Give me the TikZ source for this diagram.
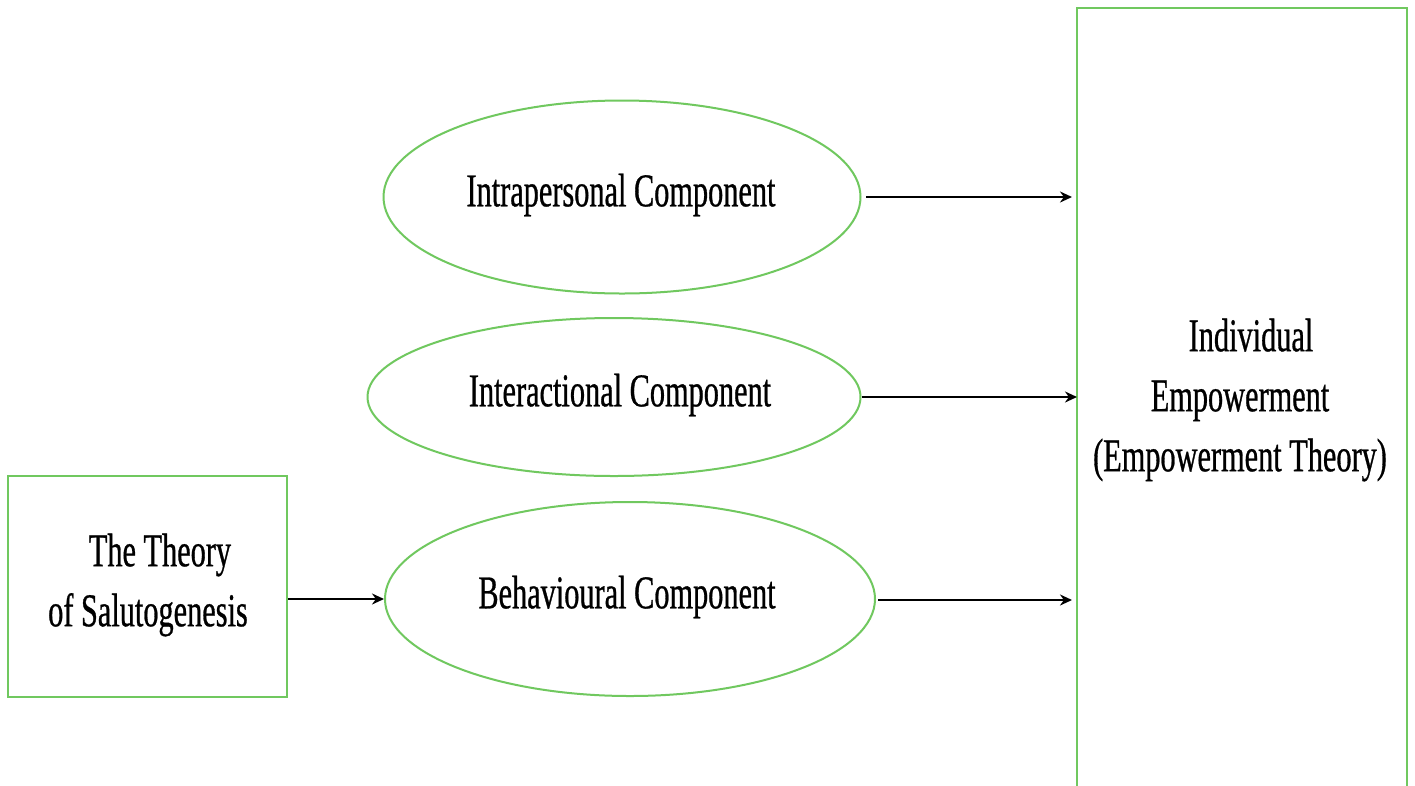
\documentclass[tikz,border=0pt]{standalone}
\usepackage{fontspec}
\setmainfont{Liberation Serif}[FakeStretch=0.645,FakeBold=0.6]
\usetikzlibrary{shapes.geometric,arrows.meta}
\definecolor{lgreen}{RGB}{112,200,95}
\tikzset{
  comp/.style={draw=lgreen,line width=2pt,ellipse,inner sep=0pt},
  boxn/.style={draw=lgreen,line width=2pt,rectangle,inner sep=0pt},
  txt/.style={font=\fontsize{47}{60}\selectfont,align=center},
  arr/.style={line width=2.8pt,-{Stealth[length=12pt,width=11pt]}}
}
\begin{document}
\begin{tikzpicture}[x=1pt,y=-1pt]
\useasboundingbox (0,0) rectangle (1415,785);
\fill[white] (0,0) rectangle (1415,785);
\node[boxn,minimum width=330pt,minimum height=784pt] (emp) at (1242,400) {};
\node[txt] (emptxt) at (1240,400) {\hspace*{22pt}Individual\\Empowerment\\(Empowerment Theory)};
\node[comp,minimum width=477pt,minimum height=193pt] (intra) at (622,197) {};
\node[txt] at (621,195) {Intrapersonal Component};
\node[comp,minimum width=493pt,minimum height=158pt] (inter) at (614,397) {};
\node[txt] at (620,395) {Interactional Component};
\node[comp,minimum width=490pt,minimum height=194pt] (behav) at (630,599) {};
\node[txt] at (627,597) {Behavioural Component};
\node[boxn,minimum width=279pt,minimum height=221pt] (salu) at (147.5,586.5) {};
\node[txt] (salutxt) at (148,585) {\hspace*{24pt}The Theory\\of Salutogenesis};
\coordinate (a1s) at (866,197); \coordinate (a1e) at (1072,197);
\coordinate (a2e) at (1077,397);
\coordinate (a3s) at (878,600); \coordinate (a3e) at (1072,600);
\draw[arr] (a1s) -- (a1e);
\draw[arr] (inter.east) -- (a2e);
\draw[arr] (a3s) -- (a3e);
\draw[arr] (salu.east |- behav.west) -- (behav.west);
\end{tikzpicture}
\end{document}
